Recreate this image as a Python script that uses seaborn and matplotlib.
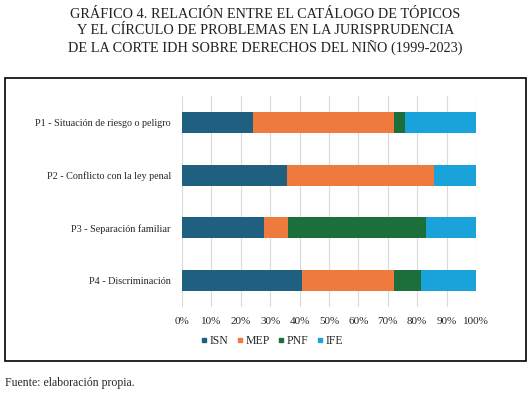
import pandas as pd
import numpy as np
import matplotlib.pyplot as plt
import seaborn as sns
from matplotlib.patches import Rectangle
from matplotlib.lines import Line2D

# Datos (porcentajes)
categorias = ['P1 - Situación de riesgo o peligro', 'P2 - Conflicto con la ley penal',
              'P3 - Separación familiar', 'P4 - Discriminación']
series = ['ISN', 'MEP', 'PNF', 'IFE']
isn = [24.0, 35.7, 28.0, 40.7]
mep = [48.0, 50.0, 8.0, 31.3]
pnf = [4.0, 0.0, 47.0, 9.4]
ife = [24.0, 14.3, 17.0, 18.6]
colores = ['#1f5f80', '#ee7b3d', '#1c6e3a', '#1aa2da']
xticks = [0, 10, 20, 30, 40, 50, 60, 70, 80, 90, 100]

sns.set_style('white')
plt.rcParams['font.family'] = ['Liberation Serif', 'DejaVu Serif']

# Tabla con sumas acumuladas para apilar
df = pd.DataFrame({'categoria': categorias, 'ISN': isn, 'MEP': mep, 'PNF': pnf, 'IFE': ife})
acum = df[series].cumsum(axis=1)
acum['categoria'] = categorias

fig = plt.figure(figsize=(5.31, 3.94), dpi=100)
ax = fig.add_axes([0.3427, 0.2208, 0.5537, 0.5355])

# Dibujar de la serie más externa a la más interna
for s, c in reversed(list(zip(series, colores))):
    sns.barplot(data=acum, x=s, y='categoria', color=c, width=0.4,
                saturation=1, ax=ax, orient='h', linewidth=0)

ax.set_xlim(0, 100)
ax.set_xticks(xticks)
ax.set_xticklabels([f'{t}%' for t in xticks], fontsize=8)
ax.tick_params(axis='y', labelsize=7.3, length=0, pad=8)
ax.tick_params(axis='x', length=0, pad=7)
ax.set_xlabel('')
ax.set_ylabel('')
ax.xaxis.grid(True, color='#d9d9d9', linewidth=0.8)
ax.set_axisbelow(True)
for sp in ax.spines.values():
    sp.set_visible(False)

handles = [Line2D([], [], marker='s', linestyle='', color=c, markersize=3.5) for c in colores]
fig.legend(handles, series, loc='center', bbox_to_anchor=(0.512, 0.134), ncol=4,
           frameon=False, fontsize=8.5, handlelength=0.6, handletextpad=0.15,
           columnspacing=0.7)

# Marco del gráfico
fig.patches.append(Rectangle((5 / 531, 1 - 361 / 394), 521 / 531, 283 / 394,
                             transform=fig.transFigure, fill=False,
                             edgecolor='black', linewidth=1.2))

titulo = ('GRÁFICO 4. RELACIÓN ENTRE EL CATÁLOGO DE TÓPICOS\n'
          'Y EL CÍRCULO DE PROBLEMAS EN LA JURISPRUDENCIA\n'
          'DE LA CORTE IDH SOBRE DERECHOS DEL NIÑO (1999-2023)')
fig.text(0.5, 1 - 8 / 394, titulo, ha='center', va='top', fontsize=10.3, color='#222222',
         linespacing=1.33)
fig.text(5 / 531, 1 - 383 / 394, 'Fuente: elaboración propia.', ha='left', va='center',
         fontsize=8.5)

plt.savefig('out.png', dpi=100)
